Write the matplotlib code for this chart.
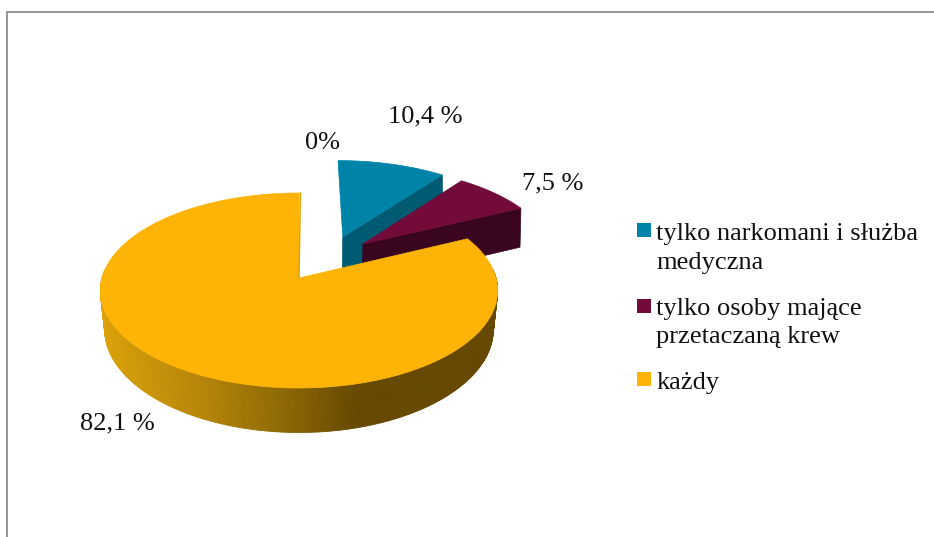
#!/bin/python3

import matplotlib
matplotlib.use("Agg")
import matplotlib.pyplot as plt
from matplotlib.patches import Polygon, Rectangle
import numpy as np

plt.rcParams["font.family"] = ["Liberation Serif", "DejaVu Serif"]

# data
legend_labels = ["tylko narkomani i służba\nmedyczna",
                 "tylko osoby mające\nprzetaczaną krew",
                 "każdy"]
shares = [10.4, 7.5, 82.1]
value_labels = ["10,4 %", "7,5 %", "82,1 %"]
zero_label = "0%"

top_colors = ["#0083A8", "#720A3A", "#FDB407"]
cut_colors = ["#005A72", "#3A051E", "#DCA208"]

# pie geometry, in pixels of the picture
CX, CY = 299, 278
RX, RY = 197, 95.9
PERSP = 0.128
explode = [(0.235, 0.452), (0.34, 0.371), (0.0, 0.0)]


def project(u, v, bottom=False):
    s = 1 / (1 + PERSP * v)
    x = RX * u * s
    y = RY * v * s
    if bottom:
        shrink = 0.98 + 0.02 * v
        return CX + x * shrink, CY - y + 39 + 23 * (s - 0.907)
    return CX + x, CY - y


def arc(start, stop, off, bottom=False, n=200):
    a = np.radians(np.linspace(start, stop, n))
    return project(off[0] + np.sin(a), off[1] + np.cos(a), bottom)


def wall_color(x):
    # shading of the outer wall runs left to right
    stops_x = [103, 200, 280, 355]
    r = np.interp(x, stops_x, [0xDC, 0xB8, 0x8F, 0x66])
    g = np.interp(x, stops_x, [0xA2, 0x86, 0x6A, 0x48])
    b = np.interp(x, stops_x, [0x0A, 0x08, 0x05, 0x00])
    return (r / 255, g / 255, b / 255)


fig = plt.figure(figsize=(9.34, 5.37), dpi=100)
ax = fig.add_axes([0, 0, 1, 1])
ax.set_xlim(0, 934)
ax.set_ylim(537, 0)
ax.axis("off")

# frame
ax.plot([7, 7], [537, 11.5], color="#959595", lw=1.4)
ax.plot([7, 934], [11.5, 11.5], color="#959595", lw=1.4)

edges = np.cumsum([0] + shares) * 3.6

# the two small exploded slices, back to front
for i in range(2):
    off = explode[i]
    a1 = np.radians(edges[i + 1])
    top_x, top_y = project(off[0], off[1])
    end_x, end_y = project(off[0] + np.sin(a1), off[1] + np.cos(a1))
    bot_x, bot_y = project(off[0], off[1], True)
    bend_x, bend_y = project(off[0] + np.sin(a1), off[1] + np.cos(a1), True)
    ax.add_patch(Polygon([(top_x, top_y), (end_x, end_y), (bend_x, bend_y), (bot_x, bot_y)],
                         fc=cut_colors[i], ec=cut_colors[i], lw=0.5))
    ax_, ay_ = arc(edges[i], edges[i + 1], off)
    pts = [(top_x, top_y)] + list(zip(ax_, ay_))
    ax.add_patch(Polygon(pts, fc=top_colors[i], ec=top_colors[i], lw=0.5))

# outer wall of the big slice, cut in strips for the shading
off = explode[2]
tx, ty = arc(85, 275, off, n=260)
bx, by = arc(85, 275, off, bottom=True, n=260)
for k in range(len(tx) - 1):
    quad = [(tx[k], ty[k]), (tx[k + 1], ty[k + 1]), (bx[k + 1], by[k + 1]), (bx[k], by[k])]
    col = wall_color((bx[k] + bx[k + 1]) / 2)
    ax.add_patch(Polygon(quad, fc=col, ec=col, lw=0.6))

# thin cut face along the notch
nx, ny = arc(360, 360, off, n=1)
ax.plot([CX, nx[0] + 1.5], [CY, ny[0]], color=cut_colors[2], lw=1.0)

ax_, ay_ = arc(edges[2], edges[3], off, n=400)
pts = [(CX, CY)] + list(zip(ax_, ay_))
ax.add_patch(Polygon(pts, fc=top_colors[2], ec=top_colors[2], lw=0.5))

# value labels
FS = 19.0
label_pos = [(425, 116), (553, 183), (117, 423)]
for txt, (x, y) in zip(value_labels, label_pos):
    ax.text(x, y, txt, fontsize=FS, ha="center", va="center", color="#111111")
ax.text(322, 143, zero_label, fontsize=FS, ha="center", va="center", color="#111111")

# legend
legend_y = [248.5, 323, 382.5]
swatch_y = [230, 306, 379]
for txt, y, sy, col in zip(legend_labels, legend_y, swatch_y, top_colors):
    ax.add_patch(Rectangle((637, sy - 7), 14, 14, fc=col, ec="none"))
    ax.text(656.5, y, txt, fontsize=FS, ha="left", va="center", color="#111111",
            linespacing=1.36)

fig.savefig("out.png", dpi=100)
